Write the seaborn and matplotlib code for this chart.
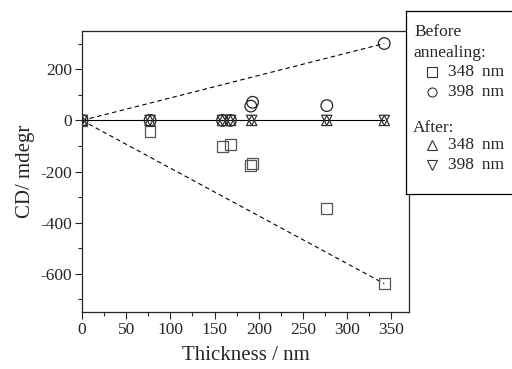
import numpy as np
import pandas as pd
import matplotlib
matplotlib.use("Agg")
import matplotlib.pyplot as plt
import seaborn as sns

# Data
thick_sq = [0, 77, 159, 168, 191, 193, 277, 342]
cd_sq = [0, -43, -101, -94, -177, -169, -344, -639]
thick_ci = [0, 77, 159, 168, 191, 193, 277, 342]
cd_ci = [0, 0, 0, 0, 56, 71, 58, 301]
thick_after = [0, 77, 159, 168, 192, 277, 342]
cd_up = [0, 0, 0, 0, 0, 0, 0]
cd_down = [0, 0, 0, 0, 0, 0, 0]

legend_labels = ["348 nm", "398 nm", "348 nm", "398 nm"]

sns.set_style("ticks")
plt.rcParams['font.family'] = ['Liberation Serif', 'DejaVu Serif']
plt.rcParams['axes.unicode_minus'] = False

fig = plt.figure(figsize=(5.12, 3.69), dpi=100)
ax = fig.add_axes([82/512, 1-312/369, (409-82)/512, (312-31)/369])

# lines
ax.plot([thick_after[0], thick_after[-1]], [cd_up[0], cd_up[-1]], color='black', lw=0.8, zorder=1)
ax.plot([thick_ci[0], thick_ci[-1]], [cd_ci[0], cd_ci[-1]], color='black', lw=0.8, ls=(0, (4, 3)), zorder=1)
ax.plot([thick_sq[0], thick_sq[-1]], [cd_sq[0], cd_sq[-1]], color='black', lw=0.8, ls=(0, (4, 3)), zorder=1)

ms = 60
sns.scatterplot(x=thick_sq, y=cd_sq, marker='s', s=ms, facecolor='none', edgecolor='#555555', linewidth=0.9, ax=ax, zorder=3)
sns.scatterplot(x=thick_ci, y=cd_ci, marker='o', s=ms+10, facecolor='none', edgecolor='#222222', linewidth=0.9, ax=ax, zorder=3)
sns.scatterplot(x=thick_after, y=cd_up, marker='^', s=ms-5, facecolor='none', edgecolor='#333333', linewidth=0.9, ax=ax, zorder=3)
sns.scatterplot(x=thick_after, y=cd_down, marker='v', s=ms-5, facecolor='none', edgecolor='#333333', linewidth=0.9, ax=ax, zorder=3)

ax.set_xlim(0, 370)
ax.set_ylim(-750, 350)
ax.set_xticks(np.arange(0, 351, 50))
ax.set_xticks(np.arange(25, 370, 50), minor=True)
ax.set_yticks(np.arange(-600, 201, 200))
ax.set_yticks(np.arange(-700, 350, 100), minor=True)
ax.tick_params(axis='both', which='major', direction='out', length=5, width=0.8, labelsize=12.5, pad=2)
ax.tick_params(axis='both', which='minor', direction='out', length=3, width=0.8)
for s in ax.spines.values():
    s.set_linewidth(0.9)
ax.set_xlabel("Thickness / nm", fontsize=15, labelpad=6)
ax.set_ylabel("CD/ mdegr", fontsize=15, labelpad=4)

# legend box in pixel coordinates
lax = fig.add_axes([406/512, 1-194/369, 120/512, (194-11)/369])
lax.set_xlim(406, 526)
lax.set_ylim(194, 11)
lax.set_xticks([]); lax.set_yticks([])
lax.set_facecolor('white')
for s in lax.spines.values():
    s.set_linewidth(0.9); s.set_color('black')
fs = 12.5
lax.text(414, 32, "Before", fontsize=fs, va='center', ha='left')
lax.text(413, 53, "annealing:", fontsize=fs, va='center', ha='left')
lax.text(413, 128, "After:", fontsize=fs, va='center', ha='left')
ys = [72, 92, 145, 165]
mk = ['s', 'o', '^', 'v']
for y, m, lab in zip(ys, mk, legend_labels):
    lax.plot([432], [y], marker=m, ms=6.5, mfc='none', mec='#333333', mew=0.8, ls='none')
    lax.text(448, y, lab.replace(" ", "\u2009 "), fontsize=fs, va='center', ha='left')

fig.savefig("out.png", dpi=100)
